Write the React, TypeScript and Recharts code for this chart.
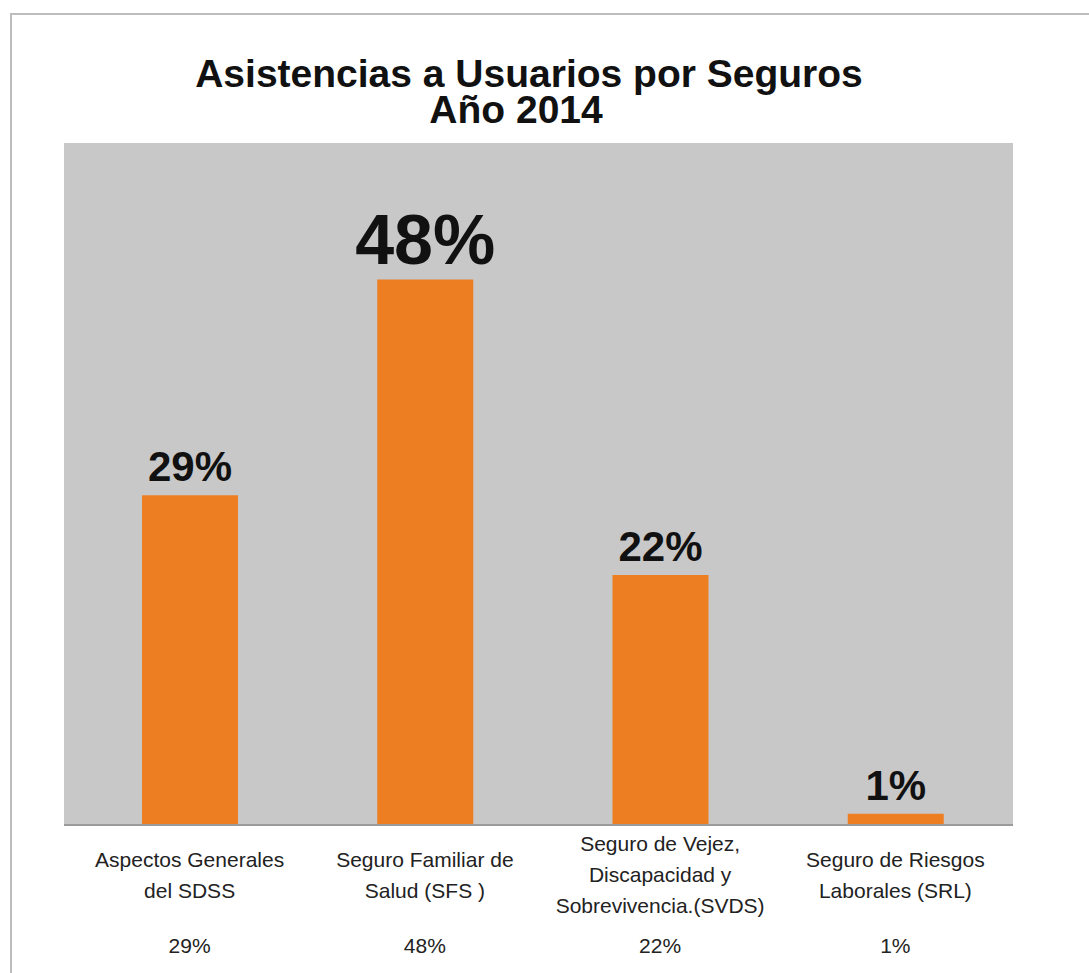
import React from "react";
import { BarChart, Bar, XAxis, YAxis, CartesianGrid, LabelList } from "recharts";

const titleLines = ["Asistencias a Usuarios por Seguros", "Año 2014"];

const categories = [
  "Aspectos Generales\ndel SDSS",
  "Seguro Familiar de\nSalud (SFS )",
  "Seguro de Vejez,\nDiscapacidad y\nSobrevivencia.(SVDS)",
  "Seguro de Riesgos\nLaborales (SRL)",
];

const shares = [29, 48, 22, 1];

const data = categories.map((name, i) => ({ name, value: shares[i] }));
const peak = Math.max(...shares);

const FONT = '"Liberation Sans", Arial, Helvetica, sans-serif';

// category name (multi-line) plus the percentage row under it
const CategoryTick = (props: any) => {
  const { x, y, payload } = props;
  const lines = String(payload.value).split("\n");
  const row = data.find((d) => d.name === payload.value);
  return (
    <g>
      <text textAnchor="middle" fontSize={21} fill="#222" fontFamily={FONT}>
        {lines.map((line, i) => (
          <tspan key={i} x={x} y={y + 57 + (i - (lines.length - 1) / 2) * 31}>
            {line}
          </tspan>
        ))}
      </text>
      <text x={x} y={y + 128} textAnchor="middle" fontSize={21} fill="#222" fontFamily={FONT}>
        {row ? `${row.value}%` : ""}
      </text>
    </g>
  );
};

const BarValueLabel = (props: any) => {
  const { x, y, width, value } = props;
  const big = value === peak;
  return (
    <text
      x={x + width / 2}
      y={y - (big ? 15 : 14)}
      textAnchor="middle"
      fontSize={big ? 70 : 42}
      fontWeight="bold"
      fill="#111"
      fontFamily={FONT}
    >
      {value}%
    </text>
  );
};

export default function App() {
  return (
    <div
      style={{
        position: "absolute",
        left: 0,
        top: 0,
        width: 1089,
        height: 973,
        overflow: "hidden",
        background: "#fff",
      }}
    >
      {/* outer frame, only left and top edges are visible */}
      <div
        style={{
          position: "absolute",
          left: 10,
          top: 13,
          width: 1200,
          height: 1200,
          borderLeft: "2px solid #bdbdbd",
          borderTop: "2px solid #bdbdbd",
        }}
      />
      <div style={{ position: "absolute", left: 0, top: 0 }}>
        <BarChart
          width={1089}
          height={973}
          data={data}
          margin={{ top: 143, right: 76, left: 64, bottom: 8 }}
        >
          <CartesianGrid fill="#c9c8c8" stroke="none" horizontal={false} vertical={false} />
          <XAxis
            dataKey="name"
            height={140}
            padding={{ left: 8, right: 0 }}
            axisLine={{ stroke: "#9b9b9b", strokeWidth: 2 }}
            tickLine={false}
            tickSize={0}
            tickMargin={0}
            interval={0}
            tick={<CategoryTick />}
          />
          <YAxis hide domain={[0, 60]} />
          <Bar dataKey="value" fill="#ee7e22" barSize={96} isAnimationActive={false}>
            <LabelList dataKey="value" content={<BarValueLabel />} />
          </Bar>
        </BarChart>
      </div>
      <svg
        width={1089}
        height={973}
        style={{ position: "absolute", left: 0, top: 0, pointerEvents: "none" }}
      >
        <text x={529} y={87} textAnchor="middle" fontSize={39} fontWeight="bold" fill="#111" fontFamily={FONT}>
          {titleLines[0]}
        </text>
        <text x={516} y={123} textAnchor="middle" fontSize={39} fontWeight="bold" fill="#111" fontFamily={FONT}>
          {titleLines[1]}
        </text>
      </svg>
    </div>
  );
}
